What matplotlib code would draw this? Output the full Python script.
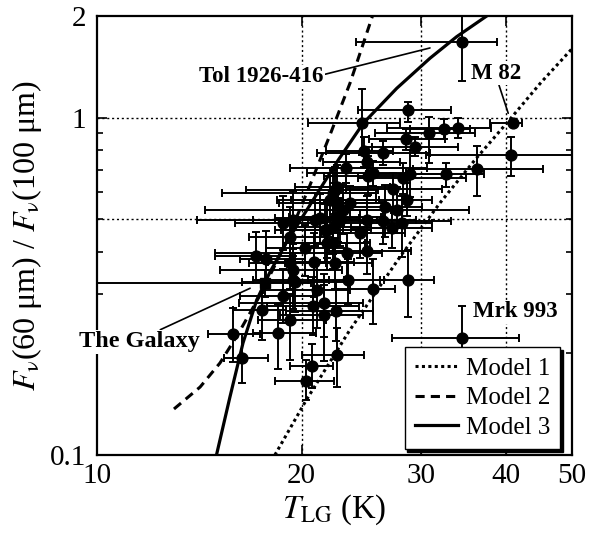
import matplotlib
matplotlib.use("Agg")
import matplotlib.pyplot as plt
from matplotlib.ticker import FixedLocator, FixedFormatter, NullLocator

plt.rcParams['font.family'] = ['Liberation Serif', 'DejaVu Serif']
plt.rcParams['mathtext.fontset'] = 'stix'

#%% data
# galaxies: temperature (K), 60/100 ratio, and error bars (minus, plus)
T_gal = [34.44, 40.94, 40.62, 36.2, 33.94, 32.4, 30.79, 28.69, 24.52, 28.47,
         29.38, 26.38, 24.74, 23.25, 24.93, 25.45, 25.05, 28.23, 28.87, 32.59,
         27.23, 28.56, 26.53, 27.61, 26.33, 27.15, 28.07, 22.39, 22.53, 23.04,
         23.57, 24.38, 24.94, 22.27, 28.72, 25.45, 23.43, 22.47, 22.53, 34.41,
         24.94, 22.39, 23.3, 17.14, 17.73, 17.47, 18.76, 19.23, 18.48, 15.87,
         16.37, 20.81, 21.6, 21.6, 21.05, 20.86, 19.45, 19.23, 19.56, 21.65,
         20.74, 20.29, 18.76, 19.45, 20.93, 21.29, 21.78, 22.27, 22.53, 22.65,
         22.02, 19.45, 21.78, 20.23, 22.27, 22.78, 19.23, 22.25]
R_gal = [1.675, 0.964, 0.776, 0.704, 0.929, 0.923, 0.898, 1.053, 0.966, 0.862,
         0.817, 0.784, 0.796, 0.711, 0.739, 0.685, 0.670, 0.662, 0.682, 0.680,
         0.615, 0.570, 0.542, 0.534, 0.493, 0.471, 0.486, 0.612, 0.557, 0.532,
         0.557, 0.454, 0.497, 0.570, 0.330, 0.310, 0.330, 0.268, 0.198, 0.2227,
         0.403, 0.370, 0.396, 0.389, 0.380, 0.269, 0.296, 0.251, 0.230, 0.228,
         0.194, 0.2765, 0.283, 0.260, 0.308, 0.374, 0.353, 0.444, 0.326, 0.464,
         0.183, 0.166, 0.486, 0.497, 0.497, 0.503, 0.464, 0.597, 0.624, 0.509,
         0.570, 0.330, 0.424, 0.410, 0.475, 0.497, 0.371, 0.425]
T_lo = [10.4, 3.1, 10.1, 7.0, 7.2, 3.5, 5.1, 4.5, 4.1, 3.3,
        4.0, 5.3, 3.0, 4.0, 3.4, 5.1, 3.5, 4.0, 4.0, 3.5,
        4.0, 5.0, 4.0, 5.0, 4.0, 3.5, 5.0, 5.8, 4.0, 8.6,
        3.0, 3.0, 4.5, 3.0, 2.6, 3.0, 3.0, 3.5, 2.5, 7.2,
        3.0, 3.5, 8.4, 2.2, 1.5, 1.6, 2.5, 2.0, 1.5, 1.3,
        1.0, 3.0, 5.4, 3.0, 3.5, 3.0, 4.3, 2.5, 3.2, 3.0,
        1.5, 2.0, 2.8, 2.5, 6.9, 3.0, 3.5, 7.0, 3.0, 3.5,
        3.6, 2.5, 3.0, 2.5, 3.0, 3.0, 2.5, 3.0]
T_hi = [4.4, 1.2, 15.0, 9.1, 4.0, 3.0, 5.2, 4.5, 3.4, 4.0,
        4.6, 4.5, 2.5, 7.3, 3.0, 3.0, 4.0, 6.7, 3.5, 4.5,
        5.0, 2.5, 3.5, 7.6, 6.9, 4.0, 3.0, 3.5, 4.0, 4.0,
        3.0, 4.0, 4.5, 3.5, 2.6, 2.0, 3.0, 3.0, 2.2, 7.3,
        4.0, 3.0, 3.0, 2.2, 2.5, 1.5, 2.0, 2.5, 2.5, 1.5,
        1.5, 3.5, 3.0, 3.0, 2.5, 3.0, 3.5, 3.0, 4.0, 3.0,
        1.5, 2.0, 3.0, 3.5, 4.0, 3.0, 3.5, 3.5, 4.5, 3.5,
        4.0, 2.5, 3.0, 3.0, 3.0, 3.0, 2.5, 3.0]
R_lo = [0.39, 0.02, 0.105, 0.118, 0.06, 0.06, 0.164, 0.08, 0.19, 0.06,
        0.05, 0.06, 0.08, 0.07, 0.07, 0.06, 0.08, 0.07, 0.10, 0.056,
        0.08, 0.06, 0.10, 0.08, 0.07, 0.06, 0.10, 0.10, 0.08, 0.08,
        0.06, 0.07, 0.07, 0.07, 0.074, 0.066, 0.05, 0.05, 0.039, 0.045,
        0.06, 0.06, 0.06, 0.06, 0.06, 0.05, 0.05, 0.06, 0.05, 0.04,
        0.03, 0.05, 0.06, 0.07, 0.07, 0.08, 0.07, 0.09, 0.06, 0.09,
        0.025, 0.02, 0.08, 0.09, 0.08, 0.08, 0.08, 0.08, 0.09, 0.08,
        0.08, 0.06, 0.07, 0.07, 0.08, 0.08, 0.06, 0.07]
R_hi = [0.6, 0.02, 0.10, 0.122, 0.07, 0.07, 0.107, 0.062, 0.25, 0.06,
        0.06, 0.07, 0.08, 0.07, 0.08, 0.06, 0.10, 0.07, 0.12, 0.054,
        0.07, 0.07, 0.09, 0.09, 0.07, 0.07, 0.10, 0.10, 0.08, 0.10,
        0.07, 0.08, 0.09, 0.07, 0.075, 0.07, 0.05, 0.06, 0.04, 0.054,
        0.06, 0.07, 0.06, 0.07, 0.08, 0.06, 0.06, 0.05, 0.05, 0.045,
        0.035, 0.06, 0.06, 0.06, 0.07, 0.08, 0.07, 0.10, 0.07, 0.09,
        0.03, 0.025, 0.10, 0.11, 0.10, 0.09, 0.10, 0.10, 0.10, 0.09,
        0.10, 0.06, 0.08, 0.07, 0.08, 0.08, 0.07, 0.08]

# the Galaxy (square marker)
T_mw = [17.67]
R_mw = [0.323]
T_mw_err = [[8.0], [3.0]]
R_mw_err = [[0.03], [0.03]]

# model curves
T_m1 = [18.27, 20.3, 23.5, 28.0, 32.0, 36.0, 40.2, 45.0, 50.0]
R_m1 = [0.1, 0.145, 0.233, 0.39, 0.56, 0.75, 0.97, 1.27, 1.6]
T_m2 = [12.98, 14.18, 15.17, 16.13, 17.38, 18.91, 20.58, 22.02, 23.57, 25.43]
R_m2 = [0.1369, 0.159, 0.1874, 0.2284, 0.298, 0.419, 0.631, 0.888, 1.266, 2.0]
T_m3 = [14.99, 15.69, 16.40, 17.18, 17.97, 19.02, 20.58, 22.65, 24.65, 27.61,
        30.90, 33.83, 37.45]
R_m3 = [0.1, 0.1486, 0.2148, 0.288, 0.3486, 0.428, 0.551, 0.749, 0.962, 1.221,
        1.499, 1.737, 2.0]

x_ticks = [10, 20, 30, 40, 50]
y_ticks = [0.1, 1, 2]
y_minor = [0.2, 0.3, 0.4, 0.5, 0.6, 0.7, 0.8, 0.9]
x_grid = [20, 30, 40]
y_grid = [0.5, 1]

#%% plot
fig = plt.figure(figsize=(5.94, 5.42), dpi=100)
ax = fig.add_axes([0.1633, 0.1605, 0.7997, 0.81])
ax.set_xscale('log')
ax.set_yscale('log')

for xg in x_grid:
    ax.axvline(xg, color='k', lw=1.0, ls=(0, (1.5, 2)), zorder=1)
for yg in y_grid:
    ax.axhline(yg, color='k', lw=1.0, ls=(0, (1.5, 2)), zorder=1)

ax.errorbar(T_gal, R_gal, xerr=[T_lo, T_hi], yerr=[R_lo, R_hi], fmt='o',
            ms=7.8, color='k', ecolor='k', elinewidth=1.4, capsize=3,
            capthick=1.4, zorder=3)
ax.errorbar(T_mw, R_mw, xerr=T_mw_err, yerr=R_mw_err, fmt='s', ms=7.5,
            color='k', ecolor='k', elinewidth=1.4, capsize=3, capthick=1.4,
            zorder=3)

ax.plot(T_m1, R_m1, color='k', lw=2.2, ls=(0, (1, 1.1)), label='Model 1', zorder=4)
ax.plot(T_m2, R_m2, color='k', lw=2.2, ls=(0, (3, 2)), label='Model 2', zorder=4)
ax.plot(T_m3, R_m3, color='k', lw=2.3, ls='-', label='Model 3', zorder=4)

ax.set_xlim(10, 50)
ax.set_ylim(0.1, 2)

ax.xaxis.set_major_locator(FixedLocator(x_ticks))
ax.xaxis.set_major_formatter(FixedFormatter([str(v) for v in x_ticks]))
ax.xaxis.set_minor_locator(NullLocator())
ax.yaxis.set_major_locator(FixedLocator(y_ticks))
ax.yaxis.set_major_formatter(FixedFormatter(['0.1', '1', '2']))
ax.yaxis.set_minor_locator(FixedLocator(y_minor))
ax.tick_params(which='both', direction='in', top=True, right=True,
               labelsize=21, width=1.2)
ax.tick_params(which='major', length=7)
ax.tick_params(which='minor', length=4)
ax.tick_params(axis='y', pad=8)
ax.tick_params(axis='x', pad=6)
for s in ax.spines.values():
    s.set_linewidth(1.6)

ax.set_xlabel(r'$T_{\mathrm{LG}}$ (K)', fontsize=23.5, labelpad=2)
ax.set_ylabel(r'$F_{\mathrm{\nu}}$(60 μm) / $F_{\mathrm{\nu}}$(100 μm)',
              fontsize=23, labelpad=4)

# labels
box = dict(fc='white', ec='none', pad=1)
ax.annotate('Tol 1926-416', xy=(30.9, 1.608), xytext=(17.47, 1.322),
            fontsize=16.5, fontweight='bold', ha='center', va='center',
            bbox=box, zorder=6,
            arrowprops=dict(arrowstyle='-', color='k', lw=1.2, shrinkA=0, shrinkB=0,
                            relpos=(1.0, 0.6)))
ax.annotate('M 82', xy=(40.28, 1.03), xytext=(38.65, 1.353),
            fontsize=16.5, fontweight='bold', ha='center', va='center',
            bbox=box, zorder=6,
            arrowprops=dict(arrowstyle='-', color='k', lw=1.2, shrinkA=0, shrinkB=0,
                            relpos=(0.55, 0.0)))
ax.text(41.29, 0.266, 'Mrk 993', fontsize=16.5, fontweight='bold',
        ha='center', va='center', bbox=box, zorder=6)
ax.annotate('The Galaxy', xy=(16.8, 0.312), xytext=(11.53, 0.2167),
            fontsize=17.5, fontweight='bold', ha='center', va='center',
            bbox=box, zorder=6, annotation_clip=False,
            arrowprops=dict(arrowstyle='-', color='k', lw=1.2, shrinkA=0, shrinkB=0,
                            relpos=(0.65, 1.0)))

leg = ax.legend(loc='lower right', bbox_to_anchor=(0.975, 0.014),
                borderaxespad=0, fontsize=18, handlelength=1.75,
                handletextpad=0.3, labelspacing=0.28, borderpad=0.4,
                fancybox=False, edgecolor='k',
                framealpha=1, shadow={'color': 'k', 'alpha': 1})
leg.get_frame().set_linewidth(1.0)
leg.set_zorder(10)

plt.savefig('out.png', dpi=100)
